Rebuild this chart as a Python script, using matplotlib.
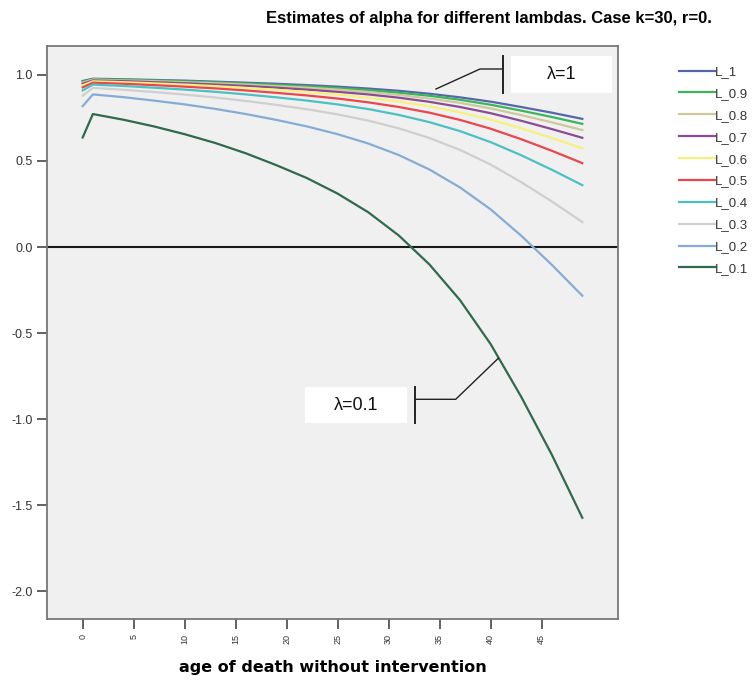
import matplotlib
matplotlib.use('Agg')
import matplotlib.pyplot as plt
from matplotlib.lines import Line2D
from matplotlib.patches import Rectangle

plt.rcParams['font.family'] = ['Liberation Sans', 'DejaVu Sans']

# ages (x) and estimated alpha for each lambda
age = [0, 1, 4, 7, 10, 13, 16, 19, 22, 25, 28, 31, 34, 37, 40, 43, 46, 49]

L_1 = [0.964, 0.977, 0.974, 0.970, 0.966, 0.960, 0.954, 0.948, 0.940, 0.931,
       0.920, 0.907, 0.890, 0.869, 0.844, 0.813, 0.780, 0.744]
L_09 = [0.960, 0.975, 0.971, 0.967, 0.962, 0.956, 0.949, 0.942, 0.933, 0.923,
        0.911, 0.896, 0.878, 0.855, 0.826, 0.792, 0.755, 0.715]
L_08 = [0.955, 0.972, 0.967, 0.963, 0.957, 0.951, 0.943, 0.934, 0.925, 0.914,
        0.900, 0.883, 0.862, 0.837, 0.805, 0.766, 0.724, 0.679]
L_07 = [0.948, 0.967, 0.963, 0.957, 0.951, 0.943, 0.935, 0.925, 0.914, 0.901,
        0.886, 0.867, 0.843, 0.813, 0.777, 0.733, 0.685, 0.634]
L_06 = [0.939, 0.962, 0.957, 0.950, 0.943, 0.934, 0.924, 0.913, 0.900, 0.885,
        0.867, 0.845, 0.817, 0.782, 0.740, 0.689, 0.633, 0.573]
L_05 = [0.927, 0.954, 0.948, 0.940, 0.931, 0.921, 0.909, 0.895, 0.880, 0.862,
        0.840, 0.813, 0.780, 0.738, 0.687, 0.626, 0.559, 0.487]
L_04 = [0.909, 0.943, 0.935, 0.925, 0.914, 0.901, 0.886, 0.869, 0.850, 0.828,
        0.801, 0.767, 0.725, 0.673, 0.609, 0.533, 0.449, 0.359]
L_03 = [0.879, 0.924, 0.913, 0.900, 0.885, 0.868, 0.848, 0.825, 0.800, 0.770,
        0.734, 0.689, 0.633, 0.564, 0.479, 0.377, 0.265, 0.145]
L_02 = [0.818, 0.886, 0.870, 0.850, 0.828, 0.802, 0.772, 0.738, 0.700, 0.655,
        0.601, 0.534, 0.450, 0.346, 0.219, 0.066, -0.103, -0.283]
L_01 = [0.636, 0.772, 0.739, 0.700, 0.655, 0.604, 0.544, 0.475, 0.400, 0.310,
        0.202, 0.067, -0.101, -0.308, -0.563, -0.869, -1.205, -1.572]

series = [L_1, L_09, L_08, L_07, L_06, L_05, L_04, L_03, L_02, L_01]
labels = ['L_1', 'L_0.9', 'L_0.8', 'L_0.7', 'L_0.6', 'L_0.5', 'L_0.4', 'L_0.3', 'L_0.2', 'L_0.1']
colors = ['#5467aa', '#3cb55a', '#cdc99c', '#8a4c92', '#f6f17c', '#e9474c',
          '#4cc0c2', '#cfcfcf', '#86acd6', '#2f6a4c']

xticks = [0, 5, 10, 15, 20, 25, 30, 35, 40, 45]
yticks = [1.0, 0.5, 0.0, -0.5, -1.0, -1.5, -2.0]
ytick_labels = ['1.0', '0.5', '0.0', '-0.5', '-1.0', '-1.5', '-2.0']

W, H = 755, 684
fig = plt.figure(figsize=(W / 100, H / 100), dpi=100)
ax = fig.add_axes([47 / W, 1 - 619 / H, (618 - 47) / W, (619 - 45.5) / H])
ax.set_facecolor('#f0f0f0')

for s, lab, c in zip(series, labels, colors):
    ax.plot(age, s, color=c, lw=1.6, label=lab)
ax.axhline(0, color='#1a1a1a', lw=1.5, zorder=1)

ax.set_xlim(-3.5, 52.5)
ax.set_ylim(-2.16, 1.17)
ax.set_xticks(xticks)
ax.set_xticklabels([str(t) for t in xticks], rotation=90, fontsize=6.5, color='#333333')
ax.set_yticks(yticks)
ax.set_yticklabels(ytick_labels, fontsize=9, color='#333333')
ax.tick_params(axis='both', direction='out', length=7, width=1.3, color='#555555')
for sp in ax.spines.values():
    sp.set_color('#777777')
    sp.set_linewidth(1.3)

ax.set_xlabel('age of death without intervention', fontsize=11.5, fontweight='bold',
              family=['DejaVu Sans'], labelpad=12)
fig.text(488.5 / W, 1 - 18 / H, 'Estimates of alpha for different lambdas. Case k=30, r=0.',
         ha='center', va='center', fontsize=12, fontweight='bold')

ax.legend(loc='upper left', bbox_to_anchor=(679 / W, 1 - 66 / H), bbox_transform=fig.transFigure,
          frameon=False, fontsize=9.5, handlelength=2.75, handletextpad=0.0,
          labelspacing=0.73, labelcolor='#333333', borderpad=0, borderaxespad=0)


def fig_line(xs, ys, lw=1.0):
    fig.add_artist(Line2D([x / W for x in xs], [1 - y / H for y in ys],
                          color='#222222', lw=lw, transform=fig.transFigure))


def fig_box(x0, y0, x1, y1, txt):
    fig.add_artist(Rectangle((x0 / W, 1 - y1 / H), (x1 - x0) / W, (y1 - y0) / H,
                             facecolor='white', edgecolor='none', transform=fig.transFigure))
    fig.text((x0 + x1) / 2 / W, 1 - (y0 + y1) / 2 / H, txt, ha='center', va='center',
             fontsize=13, color='#111111')


# lambda = 1 callout
fig_box(510.7, 56, 612.3, 92.7, 'λ=1')
fig_line([502.7, 502.7], [56, 93.3], lw=1.4)
fig_line([502.7, 480, 436], [69, 69, 89])

# lambda = 0.1 callout
fig_box(305, 387.3, 406.7, 423.3, 'λ=0.1')
fig_line([415, 415], [386.7, 423.3], lw=1.4)
fig_line([415, 455.7, 498.3], [399.3, 399.3, 358.3])

fig.savefig('out.png', dpi=100)
